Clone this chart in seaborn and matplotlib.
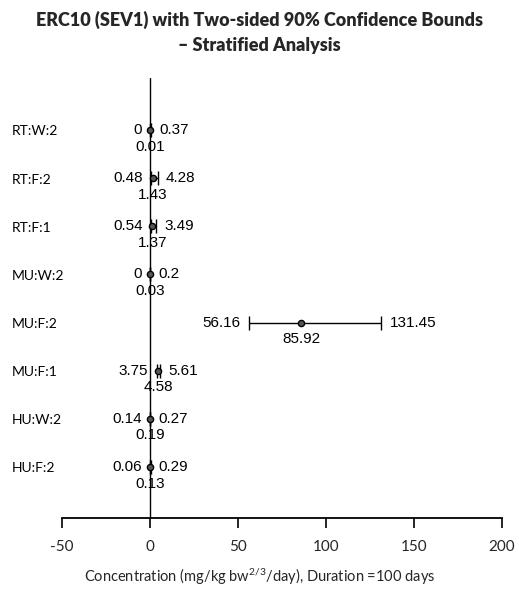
import numpy as np
import pandas as pd
import matplotlib
matplotlib.use("Agg")
import matplotlib.pyplot as plt
import matplotlib.transforms as mtransforms
import seaborn as sns

categories = ['RT:W:2', 'RT:F:2', 'RT:F:1', 'MU:W:2', 'MU:F:2', 'MU:F:1', 'HU:W:2', 'HU:F:2']
lower = [0, 0.48, 0.54, 0, 56.16, 3.75, 0.14, 0.06]
mean = [0.01, 1.43, 1.37, 0.03, 85.92, 4.58, 0.19, 0.13]
upper = [0.37, 4.28, 3.49, 0.2, 131.45, 5.61, 0.27, 0.29]
xticks = [-50, 0, 50, 100, 150, 200]

sns.set_theme(style='white')
plt.rcParams['font.family'] = ['Lato', 'DejaVu Sans']
plt.rcParams['mathtext.fontset'] = 'custom'
plt.rcParams['mathtext.rm'] = 'Lato'
plt.rcParams['mathtext.it'] = 'Lato:italic'

n = len(categories)
ypos = np.arange(n)[::-1].astype(float)
df = pd.DataFrame({'cat': categories, 'y': ypos, 'mean': mean, 'lower': lower, 'upper': upper})

fig = plt.figure(figsize=(5.19, 5.90), dpi=100)
ax = fig.add_axes([62/519, 1-518/590, (502-62)/519, (518-78)/590])

ax.axvline(0, color='black', lw=1.0, zorder=1)
ax.errorbar(df['mean'], df['y'],
            xerr=[df['mean'] - df['lower'], df['upper'] - df['mean']],
            fmt='none', ecolor='black', elinewidth=1.0, capsize=5, capthick=1.0, zorder=2)
sns.scatterplot(data=df, x='mean', y='y', ax=ax, marker='o', s=20,
                facecolor='#555555', edgecolor='black', linewidth=1.0, zorder=3, legend=False)

numfont = dict(family=['Liberation Sans', 'DejaVu Sans'], fontsize=11, color='black')
for i, r in df.iterrows():
    ax.annotate(f"{r['lower']:g}", (r['lower'], r['y']), xytext=(-6, 0), textcoords='offset points',
                ha='right', va='center', **numfont)
    ax.annotate(f"{r['upper']:g}", (r['upper'], r['y']), xytext=(6, 0), textcoords='offset points',
                ha='left', va='center', **numfont)
    ax.annotate(f"{r['mean']:g}", (r['mean'], r['y']), xytext=(0, -12), textcoords='offset points',
                ha='center', va='center', **numfont)

trans = mtransforms.blended_transform_factory(fig.transFigure, ax.transData)
for c, y in zip(categories, ypos):
    ax.text(12/519, y - 0.03, c, transform=trans, ha='left', va='center', fontsize=10, color='black')

ax.set_xlim(-50, 200)
ax.set_ylim(-1.06, 8.08)
ax.set_xticks(xticks)
ax.set_xticklabels([str(t) for t in xticks], fontsize=11)
ax.set_yticks([])
ax.set_ylabel('')
ax.set_xlabel(r'Concentration (mg/kg bw$^{2/3}$/day), Duration =100 days', fontsize=10.5, labelpad=9)
ax.xaxis.label.set_x((260 - 62) / 440)
ax.tick_params(axis='x', direction='out', length=7, width=1.2, color='black', pad=9, bottom=True)
for s in ['top', 'right', 'left']:
    ax.spines[s].set_visible(False)
ax.spines['bottom'].set_color('black')
ax.spines['bottom'].set_linewidth(1.3)
ax.patch.set_alpha(0)

fig.text(0.5, 1-20/590, 'ERC10 (SEV1) with Two-sided 90% Confidence Bounds', ha='center', va='center',
         fontsize=13, fontweight='heavy')
fig.text(0.5, 1-45/590, '\u2013 Stratified Analysis', ha='center', va='center',
         fontsize=13, fontweight='heavy')

fig.savefig('out.png', dpi=100)
